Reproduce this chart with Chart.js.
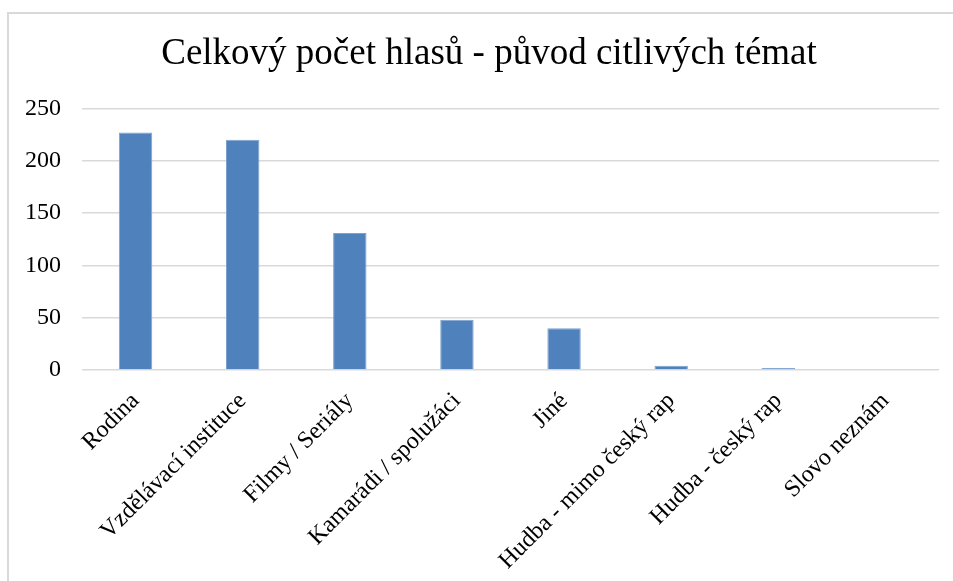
<!DOCTYPE html>
<html>
<head>
<meta charset="utf-8">
<script src="https://cdn.jsdelivr.net/npm/chart.js@4/dist/chart.umd.min.js"></script>
<style>
  html, body { margin: 0; padding: 0; background: #fff; overflow: hidden; }
  #frame { position: absolute; left: 7px; top: 12px; width: 1000px; height: 1000px; border: 2px solid #d9d9d9; box-sizing: border-box; }
  #wrap { position: absolute; left: 0; top: 0; width: 953px; height: 581px; }
</style>
</head>
<body>
<div id="frame"></div>
<div id="wrap"><canvas id="chart"></canvas></div>
<script>
const categories = ['Rodina', 'Vzdělávací instituce', 'Filmy / Seriály', 'Kamarádi / spolužáci', 'Jiné', 'Hudba - mimo český rap', 'Hudba - český rap', 'Slovo neznám'];
const votes = [227, 220, 131, 48, 40, 4, 2, 0];
const yTicks = [0, 50, 100, 150, 200, 250];

const serif = '"Liberation Serif", "Times New Roman", serif';
const ctx = document.getElementById('chart').getContext('2d');

new Chart(ctx, {
    type: 'bar',
    data: {
        labels: categories,
        datasets: [{
            data: votes,
            backgroundColor: '#4f81bd',
            borderColor: '#7da2cf',
            borderWidth: 1,
            categoryPercentage: 1,
            barPercentage: 0.312
        }]
    },
    options: {
        responsive: true,
        maintainAspectRatio: false,
        animation: false,
        layout: { padding: { left: 25, right: 0, top: 0, bottom: 2 } },
        plugins: {
            legend: { display: false },
            tooltip: { enabled: false },
            title: {
                display: true,
                text: 'Celkový počet hlasů - původ citlivých témat',
                color: '#000',
                font: { family: serif, size: 37, weight: 'normal' },
                padding: { top: 32, bottom: 32 }
            }
        },
        scales: {
            x: {
                grid: { display: false },
                border: { display: false },
                afterFit: scale => { scale.height = 209; },
                ticks: {
                    autoSkip: false,
                    maxRotation: 45,
                    minRotation: 45,
                    padding: 9,
                    color: '#000',
                    font: { family: serif, size: 24 }
                }
            },
            y: {
                min: 0,
                max: 250,
                afterBuildTicks: scale => { scale.ticks = yTicks.map(v => ({ value: v })); },
                afterFit: scale => { scale.width = 57; },
                grid: { color: '#d9d9d9', lineWidth: 1.5, drawTicks: false },
                border: { display: false },
                ticks: {
                    padding: 21,
                    color: '#000',
                    font: { family: serif, size: 24 }
                }
            },
            y2: {
                position: 'right',
                display: true,
                grid: { display: false },
                border: { display: false },
                ticks: { display: false },
                afterFit: scale => { scale.width = 14; }
            }
        }
    }
});
</script>
</body>
</html>
